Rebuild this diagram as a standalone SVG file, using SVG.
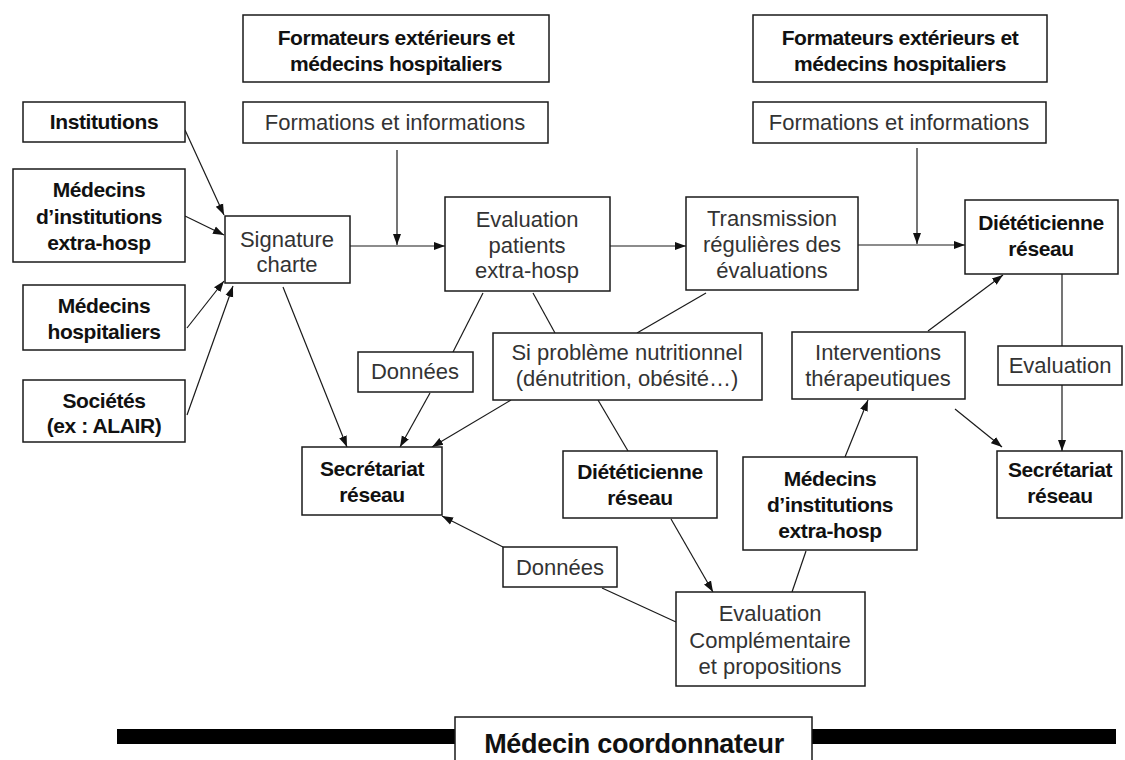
<svg xmlns="http://www.w3.org/2000/svg" width="1125" height="760" viewBox="0 0 1125 760">
<style>
.box{fill:#fff;stroke:#1a1a1a;stroke-width:1.5}
.n{font-family:"Liberation Sans",Arial,sans-serif;font-size:22px;fill:#333;text-anchor:middle}
.b{font-family:"Liberation Sans",Arial,sans-serif;font-size:21px;font-weight:bold;fill:#111;text-anchor:middle;letter-spacing:-0.4px}
.c{stroke:#1a1a1a;stroke-width:1.2;fill:none}
.a{marker-end:url(#ar)}
</style>
<defs>
<marker id="ar" markerWidth="12" markerHeight="10" refX="11" refY="5" orient="auto" markerUnits="userSpaceOnUse">
<path d="M0,1 L11,5 L0,9 Z" fill="#111"/>
</marker>
</defs>
<rect width="1125" height="760" fill="#fff"/>

<g id="connectors">
<line class="c a" x1="185" y1="130" x2="224" y2="215"/>
<line class="c a" x1="185" y1="216" x2="224" y2="235"/>
<line class="c a" x1="187" y1="328" x2="224" y2="281"/>
<line class="c a" x1="187" y1="415" x2="233" y2="286"/>
<line class="c a" x1="350" y1="246" x2="445" y2="246"/>
<line class="c a" x1="397" y1="150" x2="397" y2="245"/>
<line class="c a" x1="610" y1="246" x2="686" y2="246"/>
<line class="c a" x1="858" y1="245" x2="965" y2="245"/>
<line class="c a" x1="917" y1="148" x2="917" y2="244"/>
<line class="c a" x1="283" y1="287" x2="347" y2="447"/>
<line class="c" x1="483" y1="293" x2="453" y2="352"/>
<line class="c a" x1="430" y1="393" x2="400" y2="447"/>
<line class="c" x1="533" y1="293" x2="555" y2="333"/>
<line class="c" x1="706" y1="293" x2="637" y2="333"/>
<line class="c a" x1="511" y1="400" x2="432" y2="447"/>
<line class="c" x1="598" y1="400" x2="628" y2="451"/>
<line class="c a" x1="671" y1="519" x2="713" y2="592"/>
<line class="c" x1="806" y1="551" x2="792" y2="592"/>
<line class="c" x1="676" y1="622" x2="602" y2="588"/>
<line class="c a" x1="503" y1="547" x2="442" y2="516"/>
<line class="c a" x1="845" y1="457" x2="868" y2="400"/>
<line class="c a" x1="928" y1="331" x2="1003" y2="275"/>
<line class="c a" x1="955" y1="409" x2="1002" y2="447"/>
<line class="c" x1="1062" y1="274" x2="1062" y2="346"/>
<line class="c a" x1="1062" y1="385" x2="1062" y2="451"/>
</g>

<g id="formateurs1"><rect class="box" x="243" y="15" width="306" height="67"/><text class="b" x="396" y="45" style="font-size:21px">Formateurs extérieurs et</text><text class="b" x="396" y="71" style="font-size:21px">médecins hospitaliers</text></g>
<g id="formations1"><rect class="box" x="243" y="102" width="305" height="41"/><text class="n" x="395" y="130">Formations et informations</text></g>
<g id="formateurs2"><rect class="box" x="753" y="15" width="294" height="67"/><text class="b" x="900" y="45" style="font-size:21px">Formateurs extérieurs et</text><text class="b" x="900" y="71" style="font-size:21px">médecins hospitaliers</text></g>
<g id="formations2"><rect class="box" x="753" y="102" width="293" height="41"/><text class="n" x="899" y="130">Formations et informations</text></g>

<g id="institutions"><rect class="box" x="23" y="102" width="162" height="40"/><text class="b" x="104" y="129">Institutions</text></g>
<g id="medecins-inst-left"><rect class="box" x="13" y="169" width="172" height="93"/><text class="b" x="99" y="197">Médecins</text><text class="b" x="99" y="224">d’institutions</text><text class="b" x="99" y="250">extra-hosp</text></g>
<g id="medecins-hosp"><rect class="box" x="23" y="285" width="162" height="65"/><text class="b" x="104" y="313">Médecins</text><text class="b" x="104" y="339">hospitaliers</text></g>
<g id="societes"><rect class="box" x="23" y="380" width="162" height="62"/><text class="b" x="104" y="408">Sociétés</text><text class="b" x="104" y="433">(ex : ALAIR)</text></g>

<g id="signature"><rect class="box" x="225" y="216" width="125" height="67"/><text class="n" x="287" y="247">Signature</text><text class="n" x="287" y="272">charte</text></g>
<g id="evaluation-patients"><rect class="box" x="445" y="197" width="165" height="94"/><text class="n" x="527" y="227">Evaluation</text><text class="n" x="527" y="253">patients</text><text class="n" x="527" y="278">extra-hosp</text></g>
<g id="transmission"><rect class="box" x="686" y="197" width="172" height="93"/><text class="n" x="772" y="226">Transmission</text><text class="n" x="772" y="252">régulières des</text><text class="n" x="772" y="278">évaluations</text></g>
<g id="dieteticienne-top"><rect class="box" x="965" y="200" width="153" height="74"/><text class="b" x="1041" y="230">Diététicienne</text><text class="b" x="1041" y="256">réseau</text></g>

<g id="donnees1"><rect class="box" x="358" y="352" width="115" height="40"/><text class="n" x="415" y="379">Données</text></g>
<g id="si-probleme"><rect class="box" x="493" y="333" width="269" height="67"/><text class="n" x="627" y="360">Si problème nutritionnel</text><text class="n" x="627" y="386">(dénutrition, obésité…)</text></g>
<g id="interventions"><rect class="box" x="792" y="332" width="173" height="67"/><text class="n" x="878" y="360">Interventions</text><text class="n" x="878" y="386">thérapeutiques</text></g>
<g id="evaluation-right"><rect class="box" x="998" y="346" width="124" height="39"/><text class="n" x="1060" y="373">Evaluation</text></g>

<g id="secretariat-left"><rect class="box" x="302" y="447" width="140" height="68"/><text class="b" x="372" y="476">Secrétariat</text><text class="b" x="372" y="502">réseau</text></g>
<g id="dieteticienne-mid"><rect class="box" x="563" y="451" width="154" height="67"/><text class="b" x="640" y="479">Diététicienne</text><text class="b" x="640" y="505">réseau</text></g>
<g id="medecins-inst-mid"><rect class="box" x="743" y="457" width="174" height="93"/><text class="b" x="830" y="486">Médecins</text><text class="b" x="830" y="512">d’institutions</text><text class="b" x="830" y="538">extra-hosp</text></g>
<g id="secretariat-right"><rect class="box" x="997" y="451" width="125" height="67"/><text class="b" x="1060" y="477">Secrétariat</text><text class="b" x="1060" y="503">réseau</text></g>

<g id="donnees2"><rect class="box" x="503" y="547" width="114" height="40"/><text class="n" x="560" y="575">Données</text></g>
<g id="evaluation-compl"><rect class="box" x="676" y="592" width="189" height="94"/><text class="n" x="770" y="621">Evaluation</text><text class="n" x="770" y="648">Complémentaire</text><text class="n" x="770" y="674">et propositions</text></g>

<g id="coordonnateur">
<rect x="117" y="729" width="999" height="15" fill="#000"/>
<rect class="box" x="455" y="717" width="357" height="50"/>
<text class="b" x="634" y="753" style="font-size:27px;letter-spacing:-0.3px">Médecin coordonnateur</text>
</g>
</svg>
